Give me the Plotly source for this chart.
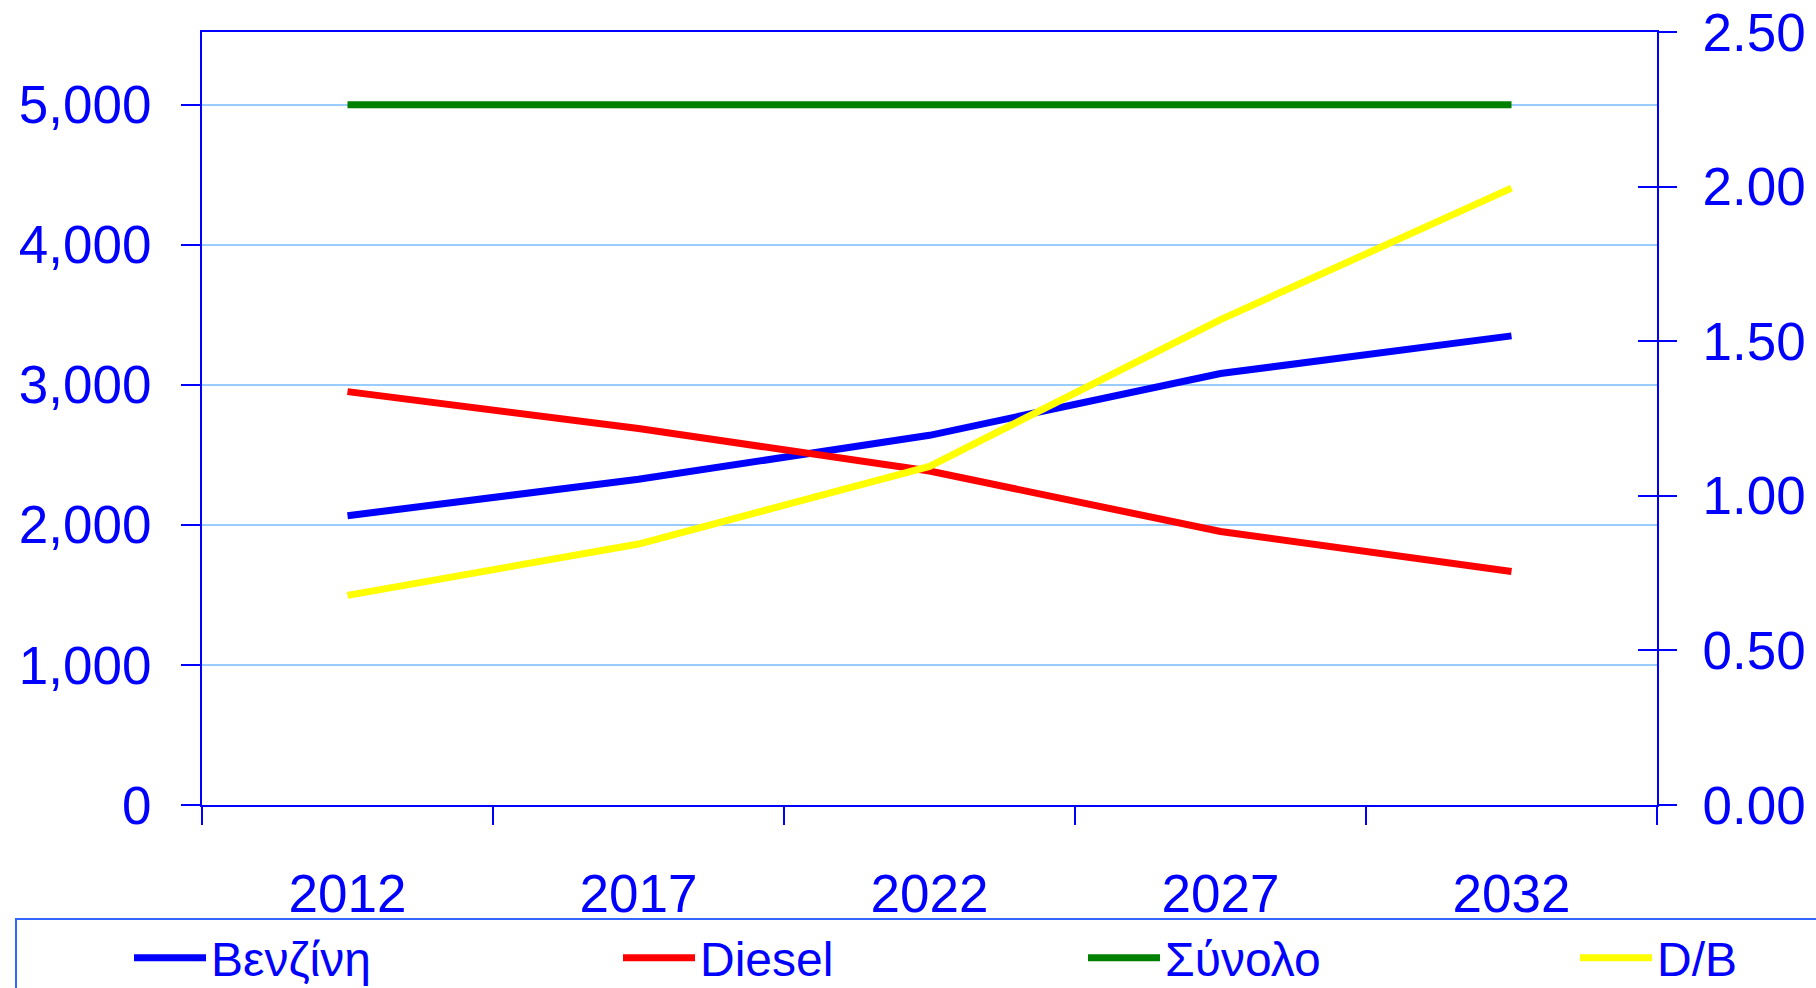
import plotly.graph_objects as go

# data
years = ["2012", "2017", "2022", "2027", "2032"]
benzine = [2066, 2326, 2640, 3081, 3350]
diesel = [2952, 2688, 2385, 1953, 1668]
total = [5000, 5000, 5000, 5000, 5000]
ratio_db = [0.678, 0.844, 1.095, 1.570, 1.995]

BLUE = "#0000FF"
FONT = "Liberation Sans, Arial, sans-serif"
FS = 53
LW = 7

W, H = 1816, 988
L, R, T, B = 202, 159, 32, 183
PW = W - L - R
PH = H - T - B

fig = go.Figure()
fig.add_trace(go.Scatter(x=years, y=benzine, name="Βενζίνη", mode="lines",
                         line=dict(color=BLUE, width=LW), legend="legend"))
fig.add_trace(go.Scatter(x=years, y=diesel, name="Diesel", mode="lines",
                         line=dict(color="#FF0000", width=LW), legend="legend2"))
fig.add_trace(go.Scatter(x=years, y=total, name="Σύνολο", mode="lines",
                         line=dict(color="#008000", width=LW), legend="legend3"))
fig.add_trace(go.Scatter(x=years, y=ratio_db, name="D/B", mode="lines", yaxis="y2",
                         line=dict(color="#FFFF00", width=LW), legend="legend4"))
# invisible copy so the inner half of the right-axis cross ticks is drawn
fig.add_trace(go.Scatter(x=years, y=ratio_db, yaxis="y3", mode="lines", opacity=0,
                         showlegend=False, hoverinfo="skip", line=dict(width=0)))


def legend_at(px, border, indent=0, entry=None):
    # px: left edge of the legend box in pixels, top edge fixed at 918px
    d = dict(
        orientation="h", x=(px - L) / PW, xanchor="left",
        y=-(918 - (H - B)) / PH, yanchor="top",
        bordercolor="#3366FF" if border else "rgba(0,0,0,0)", borderwidth=2,
        bgcolor="rgba(0,0,0,0)", itemwidth=72, indentation=indent,
        font=dict(family=FONT, size=48, color=BLUE),
    )
    if entry:
        d.update(entrywidth=entry, entrywidthmode="pixels")
    return d


fig.update_layout(
    width=W, height=H,
    margin=dict(l=L, r=R, t=T, b=B, autoexpand=False),
    paper_bgcolor="white", plot_bgcolor="white",
    font=dict(family=FONT, size=FS, color=BLUE),
    showlegend=True,
    xaxis=dict(
        type="category", range=[-0.5, 4.5], tickson="boundaries", ticks="outside",
        ticklen=18, tickwidth=2, tickcolor=BLUE, showline=True, linecolor=BLUE,
        linewidth=2, mirror=True, showgrid=False, ticklabelstandoff=41,
    ),
    yaxis=dict(
        range=[0, 5520], dtick=1000, tickformat=",", ticks="outside", ticklen=19,
        tickwidth=2, tickcolor=BLUE, showline=True, linecolor=BLUE, linewidth=2,
        showgrid=True, gridcolor="#99CCFF", gridwidth=2, zeroline=False,
        ticklabelstandoff=19,
    ),
    yaxis2=dict(
        overlaying="y", side="right", range=[0, 2.5], dtick=0.5, tickformat=".2f",
        ticks="outside", ticklen=18, tickwidth=2, tickcolor=BLUE, showline=True,
        linecolor=BLUE, linewidth=2, showgrid=False, zeroline=False,
        ticklabelstandoff=15,
    ),
    yaxis3=dict(
        overlaying="y", side="right", range=[0, 2.5], dtick=0.5, ticks="inside",
        ticklen=19, tickwidth=2, tickcolor=BLUE, showticklabels=False,
        showline=False, showgrid=False, zeroline=False,
    ),
    legend=legend_at(15, True, indent=112, entry=1800),
    legend2=legend_at(616, False),
    legend3=legend_at(1081, False),
    legend4=legend_at(1573, False),
)

# drop the default 8px body margin so the figure fills the window exactly
fig.write_html("out.html", config={"displayModeBar": False},
               post_script="document.body.style.margin = '0';")
